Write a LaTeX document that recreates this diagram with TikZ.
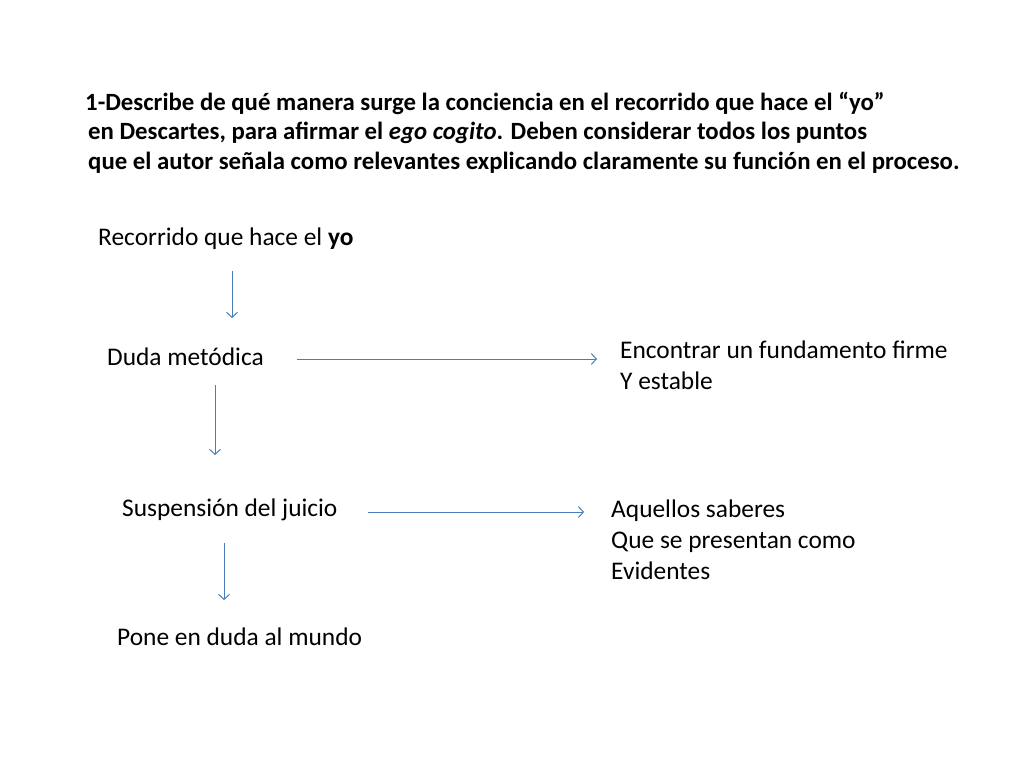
\documentclass[tikz,border=0pt]{standalone}
\usepackage{fontspec}
\setmainfont{Carlito}
\usetikzlibrary{arrows.meta}
\definecolor{arr}{HTML}{4A7EBB}
\begin{document}
\begin{tikzpicture}[x=1pt,y=-1pt,
  txt/.style={anchor=west,inner sep=0pt,align=left,font=\fontsize{25.4}{30.8}\selectfont},
  ttl/.style={anchor=west,inner sep=0pt,font=\fontsize{24.8}{30}\selectfont\bfseries},
  con/.style={draw=arr,line width=1pt,-{Straight Barb[length=5pt,width=11pt]}}]
\useasboundingbox (0,0) rectangle (1024,768);
\node[ttl] (t1) at (85,103) {1-Describe de qué manera surge la conciencia en el recorrido que hace el “yo”};
\node[ttl] (t2) at (88,133) {en Descartes, para afirmar el \textit{ego cogito}. Deben considerar todos los puntos};
\node[ttl] (t3) at (88,163) {que el autor señala como relevantes explicando claramente su función en el proceso.};
\node[txt] (rec) at (98,239) {Recorrido que hace el \textbf{yo}};
\node[txt] (duda) at (107,357) {Duda metódica};
\node[txt] (enc) at (620,365) {Encontrar un fundamento firme\\Y estable};
\node[txt] (sus) at (122,510) {Suspensión del juicio};
\node[txt] (aq) at (611,540) {Aquellos saberes\\Que se presentan como\\Evidentes};
\node[txt] (pone) at (117,637) {Pone en duda al mundo};
\coordinate (a1) at (232,271); \coordinate (b1) at (232,318);
\coordinate (a2) at (297,359); \coordinate (b2) at (597,359);
\coordinate (a3) at (215,385); \coordinate (b3) at (215,455);
\coordinate (a4) at (368,512); \coordinate (b4) at (584,512);
\coordinate (a5) at (224,543); \coordinate (b5) at (224,600);
\draw[con] (a1) -- (b1);
\draw[con] (a2) -- (b2);
\draw[con] (a3) -- (b3);
\draw[con] (a4) -- (b4);
\draw[con] (a5) -- (b5);
\end{tikzpicture}
\end{document}
